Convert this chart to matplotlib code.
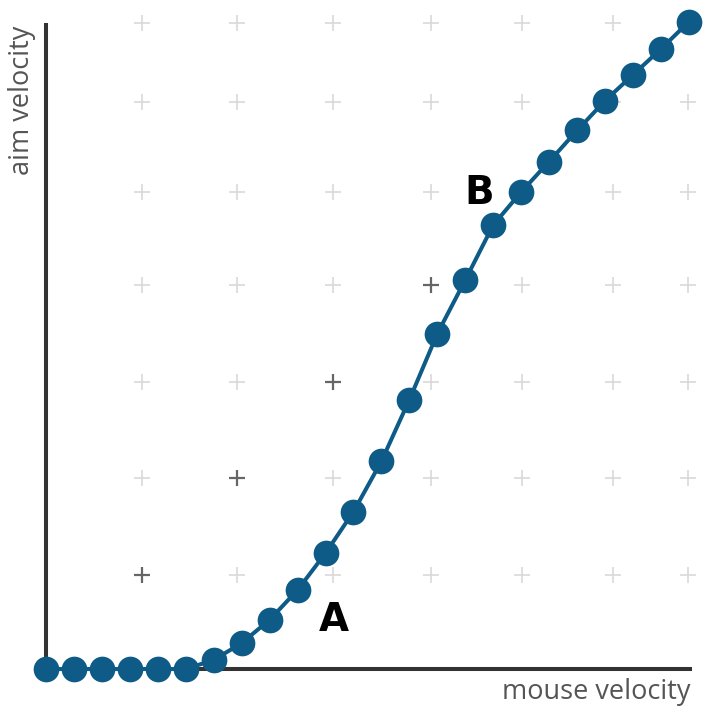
import matplotlib
matplotlib.use("Agg")
import matplotlib.pyplot as plt
import numpy as np

# mouse velocity steps and resulting aim velocity (0..100 scale)
mouse_velocity = list(range(24))
aim_velocity = [0, 0, 0, 0, 0, 0, 1.4, 4.0, 7.6, 12.2, 17.9, 24.3,
                32.1, 41.6, 51.8, 60.1, 68.6, 73.7, 78.4, 83.2, 87.8,
                91.8, 95.8, 100]

# background cross grid (data units)
grid_x = [3.43, 6.83, 10.27, 13.77, 17.03, 20.28, 22.96]
grid_y = [14.5, 29.5, 44.4, 59.4, 73.7, 87.6, 99.8]
dark_crosses = [(0, 0), (1, 1), (2, 2), (3, 3)]  # (col, row) indices

labels = {"A": (10.3, 7.5), "B": (15.5, 73.5)}

line_color = "#0d5b86"
axis_color = "#333333"

fig = plt.figure(figsize=(7.09, 7.17), dpi=100)
ax = fig.add_axes([46 / 709, (717 - 669) / 717, 644 / 709, 644 / 717])
ax.set_xlim(0, 23.04)
ax.set_ylim(0, 99.5)

# crosses
gx, gy = np.meshgrid(grid_x, grid_y)
ax.plot(gx.ravel(), gy.ravel(), "+", color="#d9d9d9", markersize=12,
        markeredgewidth=1.2, clip_on=False, zorder=1)
for c, r in dark_crosses:
    ax.plot(grid_x[c], grid_y[r], "+", color="#666666", markersize=12,
            markeredgewidth=1.6, clip_on=False, zorder=2)

ax.plot(mouse_velocity, aim_velocity, "-o", color=line_color, linewidth=2.9,
        markersize=18.5, markerfacecolor=line_color, markeredgewidth=0,
        clip_on=False, zorder=4)

for text, (x, y) in labels.items():
    ax.text(x, y, text, fontsize=28, fontweight="bold", color="black",
            ha="center", va="center", zorder=5)

for side in ["top", "right"]:
    ax.spines[side].set_visible(False)
for side in ["left", "bottom"]:
    ax.spines[side].set_color(axis_color)
    ax.spines[side].set_linewidth(2.9)
    ax.spines[side].set_zorder(3)
ax.set_xticks([])
ax.set_yticks([])

fig.text(690 / 709, 1 - 692 / 717, "mouse velocity", fontsize=19.5,
         family="Open Sans", color="#555555", ha="right", va="center")
fig.text(22 / 709, 1 - 100 / 717, "aim velocity", fontsize=19.5,
         family="Open Sans", color="#555555", ha="center", va="center",
         rotation=90)

fig.savefig("out.png", dpi=100)
